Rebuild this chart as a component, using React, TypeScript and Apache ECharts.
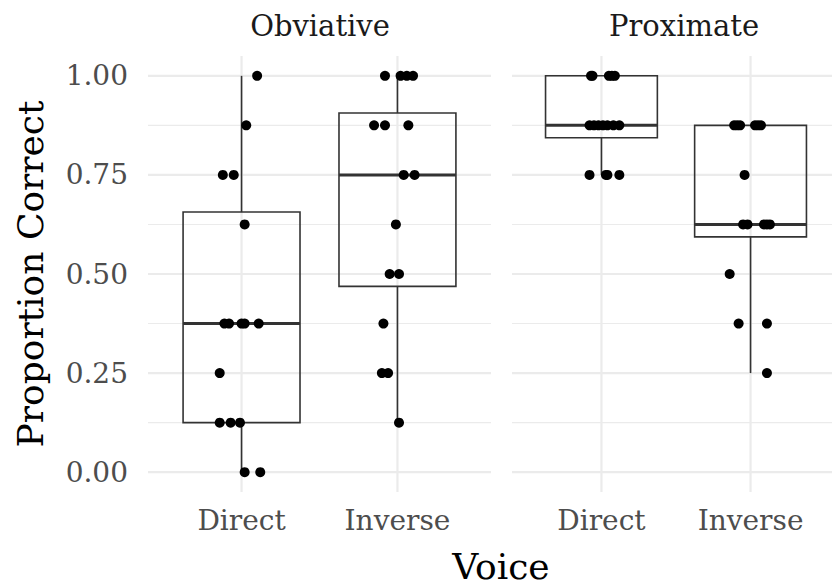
import React, { useEffect, useRef } from "react";
import * as echarts from "echarts";

const FACETS = ["Obviative", "Proximate"];
const VOICES = ["Direct", "Inverse"];
const Y_MAJOR = [0, 0.25, 0.5, 0.75, 1];
const Y_MINOR = [0.125, 0.375, 0.625, 0.875];
const X_BREAKS = [1, 2];

const OBV_DIRECT = [1, 0.875, 0.75, 0.75, 0.625, 0.375, 0.375, 0.375, 0.375, 0.375, 0.25, 0.125, 0.125, 0.125, 0, 0];
const OBV_DIRECT_JIT = [0.1, 0.03, -0.12, -0.05, 0.02, -0.11, -0.08, 0.0, 0.02, 0.11, -0.14, -0.14, -0.07, -0.01, 0.02, 0.12];
const OBV_INVERSE = [1, 1, 1, 1, 0.875, 0.875, 0.875, 0.75, 0.75, 0.625, 0.5, 0.5, 0.375, 0.25, 0.25, 0.125];
const OBV_INVERSE_JIT = [-0.08, 0.02, 0.06, 0.1, -0.15, -0.08, 0.07, 0.04, 0.11, -0.01, -0.05, 0.01, -0.09, -0.1, -0.06, 0.01];
const PROX_DIRECT = [1, 1, 1, 1, 1, 0.875, 0.875, 0.875, 0.875, 0.875, 0.875, 0.875, 0.75, 0.75, 0.75, 0.75];
const PROX_DIRECT_JIT = [-0.07, -0.06, 0.05, 0.07, 0.09, -0.08, -0.05, -0.02, 0.01, 0.04, 0.08, 0.12, -0.08, 0.03, 0.04, 0.12];
const PROX_INVERSE = [0.875, 0.875, 0.875, 0.875, 0.875, 0.875, 0.75, 0.625, 0.625, 0.625, 0.625, 0.625, 0.5, 0.375, 0.375, 0.25];
const PROX_INVERSE_JIT = [-0.11, -0.09, -0.07, 0.03, 0.05, 0.07, -0.04, -0.05, -0.02, 0.09, 0.11, 0.13, -0.14, -0.08, 0.11, 0.11];

const GROUPS = [
  [
    { values: OBV_DIRECT, jitter: OBV_DIRECT_JIT },
    { values: OBV_INVERSE, jitter: OBV_INVERSE_JIT },
  ],
  [
    { values: PROX_DIRECT, jitter: PROX_DIRECT_JIT },
    { values: PROX_INVERSE, jitter: PROX_INVERSE_JIT },
  ],
];

const X_MIN = 0.4;
const X_MAX = 2.6;
const Y_MIN = -0.05;
const Y_MAX = 1.05;
const FONT = "DejaVu Serif";

function quantile(sorted: number[], p: number) {
  const h = (sorted.length - 1) * p;
  const lo = Math.floor(h);
  const hi = Math.ceil(h);
  return sorted[lo] + (h - lo) * (sorted[hi] - sorted[lo]);
}

function boxStats(values: number[]) {
  const s = [...values].sort((a, b) => a - b);
  const q1 = quantile(s, 0.25);
  const med = quantile(s, 0.5);
  const q3 = quantile(s, 0.75);
  const iqr = q3 - q1;
  const lo = Math.min(...s.filter((v) => v >= q1 - 1.5 * iqr));
  const hi = Math.max(...s.filter((v) => v <= q3 + 1.5 * iqr));
  return [lo, q1, med, q3, hi];
}

export default function App() {
  const ref = useRef<HTMLDivElement>(null);
  useEffect(() => {
    if (!ref.current) return;
    const chart = echarts.init(ref.current, undefined, { renderer: "svg" });
    const gridLeft = [148, 512];
    const series: any[] = [];
    const grids: any[] = [];
    const xAxes: any[] = [];
    const yAxes: any[] = [];
    FACETS.forEach((f, gi) => {
      grids.push({ left: gridLeft[gi], top: 56, width: 343, height: 436 });
      xAxes.push({
        gridIndex: gi,
        type: "value",
        min: X_MIN,
        max: X_MAX,
        axisLine: { show: false },
        axisTick: { show: false },
        splitLine: { show: false },
        axisLabel: {
          customValues: X_BREAKS,
          formatter: (v: number) => VOICES[Math.round(v) - 1] || "",
          color: "#4d4d4d",
          fontFamily: FONT,
          fontSize: 28,
          margin: 14,
        },
      });
      yAxes.push({
        gridIndex: gi,
        type: "value",
        min: Y_MIN,
        max: Y_MAX,
        axisLine: { show: false },
        axisTick: { show: false },
        splitLine: { show: false },
        axisLabel: {
          show: gi === 0,
          customValues: Y_MAJOR,
          formatter: (v: number) => v.toFixed(2),
          color: "#4d4d4d",
          fontFamily: FONT,
          fontSize: 28,
          margin: 20,
        },
      });
      const lineSeries = (data: number[][], width: number, vertical: boolean) => ({
        type: "custom",
        xAxisIndex: gi,
        yAxisIndex: gi,
        silent: true,
        z: 1,
        data,
        renderItem: (params: any, api: any) => {
          const v = vertical ? api.value(0) : api.value(1);
          const p1 = vertical ? api.coord([v, Y_MIN]) : api.coord([X_MIN, v]);
          const p2 = vertical ? api.coord([v, Y_MAX]) : api.coord([X_MAX, v]);
          return {
            type: "line",
            shape: { x1: p1[0], y1: p1[1], x2: p2[0], y2: p2[1] },
            style: { stroke: "#ebebeb", lineWidth: width },
          };
        },
      });
      series.push(lineSeries(Y_MINOR.map((v) => [X_MIN, v]), 1.1, false));
      series.push(lineSeries(Y_MAJOR.map((v) => [X_MIN, v]), 2.2, false));
      series.push(lineSeries(X_BREAKS.map((v) => [v, Y_MIN]), 2.2, true));
      const boxData = GROUPS[gi].map((g, ci) => [X_BREAKS[ci], ...boxStats(g.values)]);
      series.push({
        type: "custom",
        xAxisIndex: gi,
        yAxisIndex: gi,
        silent: true,
        z: 2,
        data: boxData,
        encode: { x: 0, y: [1, 2, 3, 4, 5] },
        renderItem: (params: any, api: any) => {
          const x = api.value(0);
          const hw = 0.375;
          const lo = api.coord([x, api.value(1)]);
          const q1 = api.coord([x, api.value(2)]);
          const md = api.coord([x, api.value(3)]);
          const q3 = api.coord([x, api.value(4)]);
          const hi = api.coord([x, api.value(5)]);
          const left = api.coord([x - hw, 0])[0];
          const right = api.coord([x + hw, 0])[0];
          const st = { stroke: "#333333", lineWidth: 1.6, fill: null };
          return {
            type: "group",
            children: [
              { type: "line", shape: { x1: lo[0], y1: lo[1], x2: q1[0], y2: q1[1] }, style: st },
              { type: "line", shape: { x1: q3[0], y1: q3[1], x2: hi[0], y2: hi[1] }, style: st },
              { type: "rect", shape: { x: left, y: q3[1], width: right - left, height: q1[1] - q3[1] }, style: { stroke: "#333333", lineWidth: 1.6, fill: "rgba(0,0,0,0)" } },
              { type: "line", shape: { x1: left, y1: md[1], x2: right, y2: md[1] }, style: { stroke: "#333333", lineWidth: 3 } },
            ],
          };
        },
      });
      const pts: number[][] = [];
      GROUPS[gi].forEach((g, ci) => {
        g.values.forEach((v, i) => pts.push([X_BREAKS[ci] + g.jitter[i], v]));
      });
      series.push({
        type: "scatter",
        xAxisIndex: gi,
        yAxisIndex: gi,
        z: 3,
        silent: true,
        symbol: "circle",
        symbolSize: 10,
        itemStyle: { color: "#000000", opacity: 1 },
        data: pts,
      });
    });
    chart.setOption({
      animation: false,
      backgroundColor: "#ffffff",
      grid: grids,
      xAxis: xAxes,
      yAxis: yAxes,
      series,
      graphic: [
        { type: "text", x: 320, y: 26, style: { text: FACETS[0], font: `29px "${FONT}"`, fill: "#1a1a1a", textAlign: "center", textVerticalAlign: "middle" } },
        { type: "text", x: 684, y: 26, style: { text: FACETS[1], font: `29px "${FONT}"`, fill: "#1a1a1a", textAlign: "center", textVerticalAlign: "middle" } },
        { type: "text", x: 501, y: 566, style: { text: "Voice", font: `36px "${FONT}"`, fill: "#000000", textAlign: "center", textVerticalAlign: "middle" } },
        { type: "text", x: 30, y: 274, rotation: Math.PI / 2, style: { text: "Proportion Correct", font: `36px "${FONT}"`, fill: "#000000", textAlign: "center", textVerticalAlign: "middle" } },
      ],
    });
    return () => chart.dispose();
  }, []);
  return <div ref={ref} style={{ width: 840, height: 588, margin: -8 }} />;
}
